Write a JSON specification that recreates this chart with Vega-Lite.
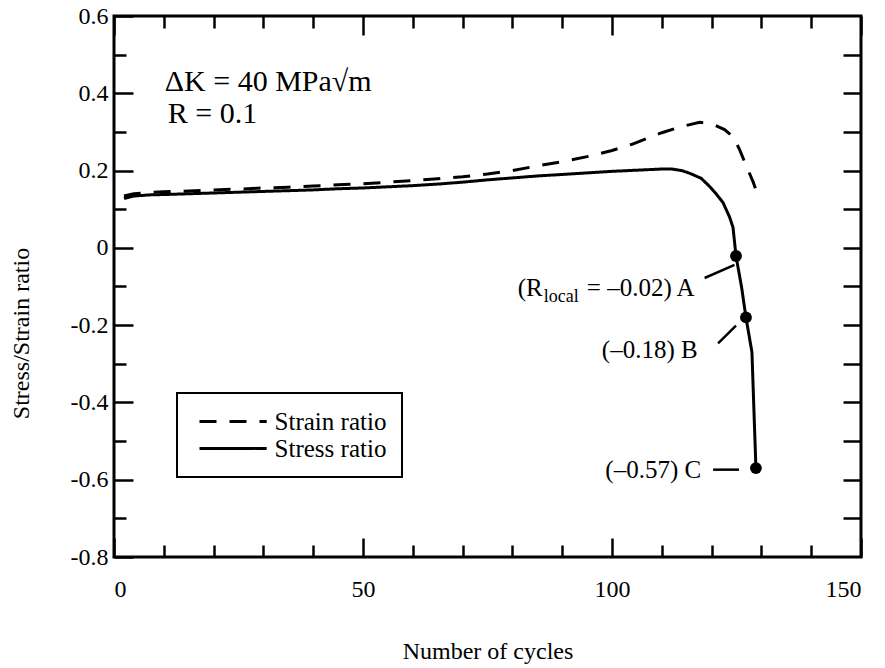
{
  "$schema": "https://vega.github.io/schema/vega-lite/v6.json",
  "width": 747,
  "height": 541,
  "autosize": "none",
  "padding": {"left": 114, "top": 16, "right": 24, "bottom": 111},
  "background": "white",
  "config": {
    "view": {"stroke": "black", "strokeWidth": 3},
    "font": "Liberation Serif",
    "axis": {
      "domain": false, "grid": false,
      "labelFont": "Liberation Serif", "labelFontSize": 24, "labelColor": "black",
      "titleFont": "Liberation Serif", "titleFontSize": 24, "titleFontWeight": "normal", "titleColor": "black",
      "tickColor": "black", "tickWidth": 2.5
    },
    "legend": {
      "orient": "none", "legendX": 63, "legendY": 377, "direction": "vertical",
      "strokeColor": "black", "strokeWidth": 2, "padding": 15,
      "labelFont": "Liberation Serif", "labelFontSize": 25, "labelColor": "black",
      "symbolType": "M-2.8,0L2.8,0", "symbolSize": 576, "symbolStrokeWidth": 3, "symbolStrokeColor": "black",
      "symbolOffset": 27.6, "labelOffset": 28, "rowPadding": -4
    }
  },
  "resolve": {"axis": {"x": "independent", "y": "independent"}},
  "datasets": {
    "curves": [
      {"series": "Strain ratio", "o": 1, "x": 2, "y": 0.134},
      {"series": "Strain ratio", "o": 2, "x": 4, "y": 0.14},
      {"series": "Strain ratio", "o": 3, "x": 7, "y": 0.143},
      {"series": "Strain ratio", "o": 4, "x": 10, "y": 0.145},
      {"series": "Strain ratio", "o": 5, "x": 15, "y": 0.147},
      {"series": "Strain ratio", "o": 6, "x": 20, "y": 0.15},
      {"series": "Strain ratio", "o": 7, "x": 25, "y": 0.152},
      {"series": "Strain ratio", "o": 8, "x": 30, "y": 0.155},
      {"series": "Strain ratio", "o": 9, "x": 35, "y": 0.157},
      {"series": "Strain ratio", "o": 10, "x": 40, "y": 0.16},
      {"series": "Strain ratio", "o": 11, "x": 45, "y": 0.163},
      {"series": "Strain ratio", "o": 12, "x": 50, "y": 0.166},
      {"series": "Strain ratio", "o": 13, "x": 55, "y": 0.17},
      {"series": "Strain ratio", "o": 14, "x": 60, "y": 0.174},
      {"series": "Strain ratio", "o": 15, "x": 65, "y": 0.179},
      {"series": "Strain ratio", "o": 16, "x": 70, "y": 0.184},
      {"series": "Strain ratio", "o": 17, "x": 75, "y": 0.191},
      {"series": "Strain ratio", "o": 18, "x": 80, "y": 0.2},
      {"series": "Strain ratio", "o": 19, "x": 85, "y": 0.212},
      {"series": "Strain ratio", "o": 20, "x": 90, "y": 0.223},
      {"series": "Strain ratio", "o": 21, "x": 95, "y": 0.236},
      {"series": "Strain ratio", "o": 22, "x": 100, "y": 0.252},
      {"series": "Strain ratio", "o": 23, "x": 104, "y": 0.268},
      {"series": "Strain ratio", "o": 24, "x": 107, "y": 0.283},
      {"series": "Strain ratio", "o": 25, "x": 110, "y": 0.298},
      {"series": "Strain ratio", "o": 26, "x": 113, "y": 0.31},
      {"series": "Strain ratio", "o": 27, "x": 115, "y": 0.317},
      {"series": "Strain ratio", "o": 28, "x": 117.6, "y": 0.325},
      {"series": "Strain ratio", "o": 29, "x": 119, "y": 0.323},
      {"series": "Strain ratio", "o": 30, "x": 120.6, "y": 0.318},
      {"series": "Strain ratio", "o": 31, "x": 122.6, "y": 0.306},
      {"series": "Strain ratio", "o": 32, "x": 124.3, "y": 0.288},
      {"series": "Strain ratio", "o": 33, "x": 125.6, "y": 0.255},
      {"series": "Strain ratio", "o": 34, "x": 126.9, "y": 0.214},
      {"series": "Strain ratio", "o": 35, "x": 128.3, "y": 0.172},
      {"series": "Strain ratio", "o": 36, "x": 129.1, "y": 0.143},
      {"series": "Stress ratio", "o": 1, "x": 2, "y": 0.128},
      {"series": "Stress ratio", "o": 2, "x": 4, "y": 0.134},
      {"series": "Stress ratio", "o": 3, "x": 7, "y": 0.137},
      {"series": "Stress ratio", "o": 4, "x": 10, "y": 0.138},
      {"series": "Stress ratio", "o": 5, "x": 15, "y": 0.14},
      {"series": "Stress ratio", "o": 6, "x": 20, "y": 0.142},
      {"series": "Stress ratio", "o": 7, "x": 25, "y": 0.144},
      {"series": "Stress ratio", "o": 8, "x": 30, "y": 0.146},
      {"series": "Stress ratio", "o": 9, "x": 35, "y": 0.148},
      {"series": "Stress ratio", "o": 10, "x": 40, "y": 0.15},
      {"series": "Stress ratio", "o": 11, "x": 45, "y": 0.153},
      {"series": "Stress ratio", "o": 12, "x": 50, "y": 0.155},
      {"series": "Stress ratio", "o": 13, "x": 55, "y": 0.158},
      {"series": "Stress ratio", "o": 14, "x": 60, "y": 0.161},
      {"series": "Stress ratio", "o": 15, "x": 65, "y": 0.165},
      {"series": "Stress ratio", "o": 16, "x": 70, "y": 0.17},
      {"series": "Stress ratio", "o": 17, "x": 75, "y": 0.176},
      {"series": "Stress ratio", "o": 18, "x": 80, "y": 0.181},
      {"series": "Stress ratio", "o": 19, "x": 85, "y": 0.186},
      {"series": "Stress ratio", "o": 20, "x": 90, "y": 0.19},
      {"series": "Stress ratio", "o": 21, "x": 95, "y": 0.194},
      {"series": "Stress ratio", "o": 22, "x": 100, "y": 0.198},
      {"series": "Stress ratio", "o": 23, "x": 105, "y": 0.201},
      {"series": "Stress ratio", "o": 24, "x": 110, "y": 0.204},
      {"series": "Stress ratio", "o": 25, "x": 112, "y": 0.204},
      {"series": "Stress ratio", "o": 26, "x": 114, "y": 0.2},
      {"series": "Stress ratio", "o": 27, "x": 115.6, "y": 0.193},
      {"series": "Stress ratio", "o": 28, "x": 117.9, "y": 0.18},
      {"series": "Stress ratio", "o": 29, "x": 119.6, "y": 0.159},
      {"series": "Stress ratio", "o": 30, "x": 120.9, "y": 0.14},
      {"series": "Stress ratio", "o": 31, "x": 122.3, "y": 0.117},
      {"series": "Stress ratio", "o": 32, "x": 123.6, "y": 0.08},
      {"series": "Stress ratio", "o": 33, "x": 124.3, "y": 0.053},
      {"series": "Stress ratio", "o": 34, "x": 124.6, "y": 0.016},
      {"series": "Stress ratio", "o": 35, "x": 124.9, "y": -0.021},
      {"series": "Stress ratio", "o": 36, "x": 126.0, "y": -0.1},
      {"series": "Stress ratio", "o": 37, "x": 126.9, "y": -0.18},
      {"series": "Stress ratio", "o": 38, "x": 128.1, "y": -0.27},
      {"series": "Stress ratio", "o": 39, "x": 128.9, "y": -0.57}
    ],
    "points": [
      {"name": "A", "x": 124.9, "y": -0.021},
      {"name": "B", "x": 126.9, "y": -0.18},
      {"name": "C", "x": 128.9, "y": -0.57}
    ],
    "leaders": [
      {"name": "A", "x": 118.6, "y": -0.078, "x2": 124.6, "y2": -0.044},
      {"name": "B", "x": 121.3, "y": -0.247, "x2": 124.9, "y2": -0.201},
      {"name": "C", "x": 120.3, "y": -0.574, "x2": 125.5, "y2": -0.574}
    ],
    "labels": [
      {"name": "A", "text": "= –0.02) A", "x": 116.6, "y": -0.104},
      {"name": "B", "text": "(–0.18) B", "x": 117.2, "y": -0.265},
      {"name": "C", "text": "(–0.57) C", "x": 117.9, "y": -0.574}
    ],
    "labelA": [
      {"part": "pre", "text": "(R", "x": 116.6, "y": -0.104},
      {"part": "sub", "text": "local", "x": 116.6, "y": -0.104}
    ],
    "notes": [
      {"text": "ΔK = 40 MPa√m", "x": 10.2, "y": 0.405},
      {"text": "R = 0.1", "x": 10.8, "y": 0.322}
    ]
  },
  "layer": [
    {
      "mark": {"type": "rule", "strokeDash": [11, 8], "strokeWidth": 2, "color": "black"},
      "encoding": {"y": {"datum": 0, "type": "quantitative", "axis": null}}
    },
    {
      "data": {"name": "curves"},
      "mark": {"type": "line", "color": "black", "strokeWidth": 3, "strokeCap": "butt"},
      "encoding": {
        "x": {"field": "x", "type": "quantitative",
              "scale": {"domain": [0, 150], "nice": false, "zero": false},
              "axis": {"orient": "bottom", "values": [0, 50, 100, 150], "tickSize": -19, "labelPadding": 39,
                       "labelFont": "Liberation Serif", "titleFont": "Liberation Serif",
                       "title": "Number of cycles", "titlePadding": 38}},
        "y": {"field": "y", "type": "quantitative",
              "scale": {"domain": [-0.8, 0.6], "nice": false, "zero": false},
              "axis": {"orient": "left", "values": [-0.8, -0.6, -0.4, -0.2, 0, 0.2, 0.4, 0.6], "tickSize": -19, "labelPadding": 25,
                       "labelFont": "Liberation Serif", "titleFont": "Liberation Serif",
                       "labelExpr": "toString(round(datum.value*10)/10)",
                       "title": "Stress/Strain ratio", "titlePadding": 37, "titleY": 317}},
        "strokeDash": {"field": "series", "type": "nominal",
                       "scale": {"domain": ["Strain ratio", "Stress ratio"], "range": [[17, 13], [1, 0]]},
                       "legend": {"title": null}},
        "order": {"field": "o", "type": "quantitative"}
      }
    },
    {
      "data": {"name": "points"},
      "mark": {"type": "circle", "color": "black", "opacity": 1, "size": 140},
      "encoding": {
        "x": {"field": "x", "type": "quantitative",
              "axis": {"orient": "bottom", "values": [10, 20, 30, 40, 60, 70, 80, 90, 110, 120, 130, 140], "tickSize": -12, "labels": false, "title": null}},
        "y": {"field": "y", "type": "quantitative",
              "axis": {"orient": "left", "values": [-0.7, -0.5, -0.3, -0.1, 0.1, 0.3, 0.5], "tickSize": -12, "labels": false, "title": null}}
      }
    },
    {
      "data": {"name": "leaders"},
      "mark": {"type": "rule", "color": "black", "strokeWidth": 2.5},
      "encoding": {
        "x": {"field": "x", "type": "quantitative",
              "axis": {"orient": "top", "values": [0, 50, 100, 150], "tickSize": -19, "labels": false, "title": null}},
        "y": {"field": "y", "type": "quantitative",
              "axis": {"orient": "right", "values": [-0.7, -0.6, -0.5, -0.4, -0.3, -0.2, -0.1, 0, 0.1, 0.2, 0.3, 0.4, 0.5], "tickSize": -18, "labels": false, "title": null}},
        "x2": {"field": "x2"},
        "y2": {"field": "y2"}
      }
    },
    {
      "data": {"name": "labels"},
      "mark": {"type": "text", "align": "right", "baseline": "middle", "font": "Liberation Serif", "fontSize": 25, "color": "black"},
      "encoding": {
        "x": {"field": "x", "type": "quantitative",
              "axis": {"orient": "top", "values": [10, 20, 30, 40, 60, 70, 80, 90, 110, 120, 130, 140], "tickSize": -12, "labels": false, "title": null}},
        "y": {"field": "y", "type": "quantitative", "axis": null},
        "text": {"field": "text"}
      }
    },
    {
      "data": {"name": "labelA"},
      "transform": [{"filter": "datum.part == 'pre'"}],
      "mark": {"type": "text", "align": "right", "baseline": "middle", "font": "Liberation Serif", "fontSize": 25, "color": "black", "dx": -152},
      "encoding": {
        "x": {"field": "x", "type": "quantitative", "axis": null},
        "y": {"field": "y", "type": "quantitative", "axis": null},
        "text": {"field": "text"}
      }
    },
    {
      "data": {"name": "labelA"},
      "transform": [{"filter": "datum.part == 'sub'"}],
      "mark": {"type": "text", "align": "right", "baseline": "middle", "font": "Liberation Serif", "fontSize": 18, "color": "black", "dx": -116, "dy": 9},
      "encoding": {
        "x": {"field": "x", "type": "quantitative", "axis": null},
        "y": {"field": "y", "type": "quantitative", "axis": null},
        "text": {"field": "text"}
      }
    },
    {
      "data": {"name": "notes"},
      "mark": {"type": "text", "align": "left", "baseline": "alphabetic", "font": "Liberation Serif", "fontSize": 30, "color": "black"},
      "encoding": {
        "x": {"field": "x", "type": "quantitative", "axis": null},
        "y": {"field": "y", "type": "quantitative", "axis": null},
        "text": {"field": "text"}
      }
    }
  ]
}
